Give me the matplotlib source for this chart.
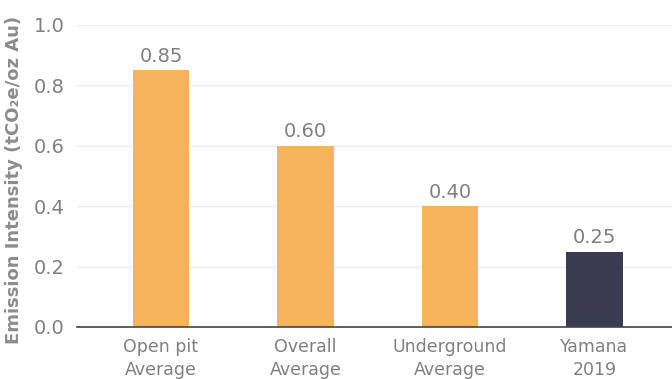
import matplotlib
matplotlib.use("Agg")
import matplotlib.pyplot as plt

categories = ["Open pit\nAverage", "Overall\nAverage", "Underground\nAverage", "Yamana\n2019"]
values = [0.85, 0.60, 0.40, 0.25]
value_labels = ["0.85", "0.60", "0.40", "0.25"]
bar_colors = ["#F5B35C", "#F5B35C", "#F5B35C", "#3A3B50"]
yticks = [0.0, 0.2, 0.4, 0.6, 0.8, 1.0]

W, H = 672, 379
fig = plt.figure(figsize=(W / 100, H / 100), dpi=100)
left, right, top, bottom = 77, 672, 25, 327
ax = fig.add_axes([left / W, 1 - bottom / H, (right - left) / W, (bottom - top) / H])

x = list(range(len(categories)))
ax.bar(x, values, width=0.39, color=bar_colors, zorder=3)
for xi, v, lab in zip(x, values, value_labels):
    ax.text(xi, v + 0.015, lab, ha="center", va="bottom", fontsize=14, color="#808080",
            family="DejaVu Sans")

ax.set_xlim(-0.581, 3.536)
ax.set_ylim(0, 1.0)
ax.set_yticks(yticks)
ax.set_yticklabels([f"{t:.1f}" for t in yticks])
ax.set_xticks(x)
ax.set_xticklabels(categories, fontsize=12.5, color="#808080", linespacing=1.35)
ax.tick_params(axis="y", labelsize=14, labelcolor="#808080", length=0, pad=9)
ax.tick_params(axis="x", length=0, pad=8)
ax.grid(axis="y", color="#EEEEEE", linewidth=1, zorder=0)
ax.set_axisbelow(True)
for s in ["top", "right", "left"]:
    ax.spines[s].set_visible(False)
ax.spines["bottom"].set_color("#444444")
ax.spines["bottom"].set_linewidth(1.2)
ax.spines["bottom"].set_zorder(4)
ax.set_ylabel("Emission Intensity (tCO₂e/oz Au)", fontsize=13, fontweight="bold",
              color="#8C8C8C")
ax.yaxis.set_label_coords(-(left - 14) / (right - left), (bottom - 180) / (bottom - top))
ax.yaxis.label.set_va("center")

fig.savefig("out.png", dpi=100)
